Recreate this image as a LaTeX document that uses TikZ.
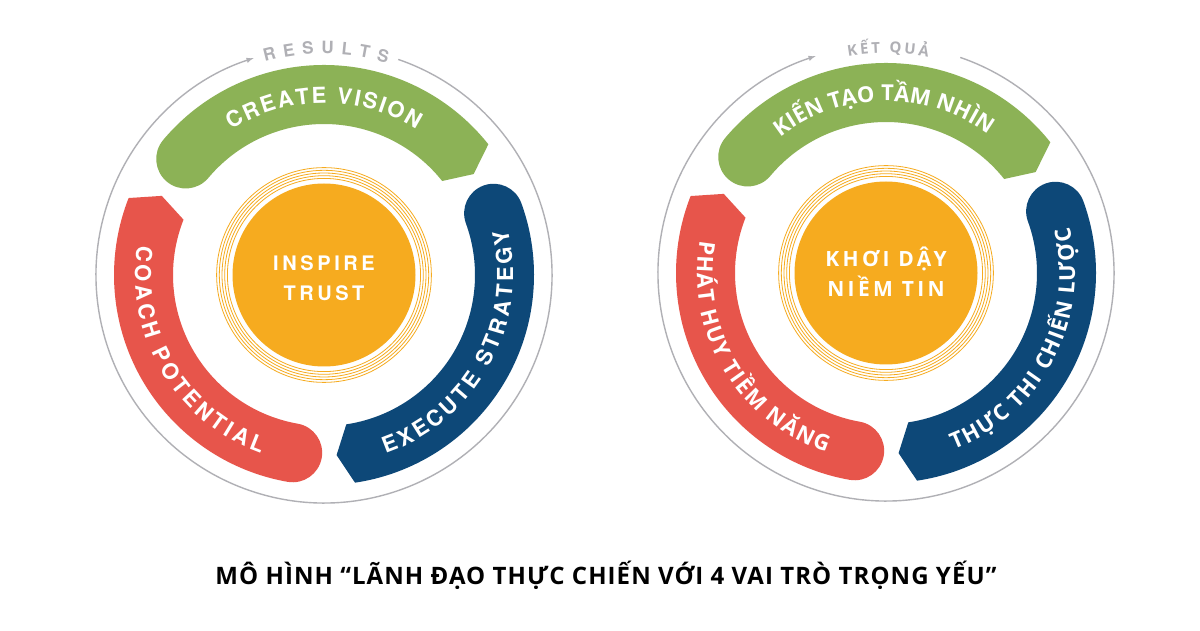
\documentclass[tikz,border=0pt]{standalone}
\usepackage{fontspec}
\setmainfont{Open Sans}
\newfontfamily\engfont{TeX Gyre Heros}
\usetikzlibrary{decorations.text}
\definecolor{grn}{RGB}{140,178,86}
\definecolor{blu}{RGB}{13,72,120}
\definecolor{red}{RGB}{231,85,75}
\definecolor{orng}{RGB}{246,171,31}
\definecolor{gry}{RGB}{176,176,181}
\newcommand{\enband}{\engfont\bfseries\fontsize{22}{24}\selectfont}
\newcommand{\vnband}{\bfseries\fontsize{22}{24}\selectfont}
\tikzset{
  arctext/.style={decorate, decoration={text along path, text align=fit to path, text color=white, text={#1}}},
  toptext/.style={decorate, decoration={text along path, text align=fit to path, text color=gry, text={#1}}},
  ctrtext/.style={text=white, align=center, inner sep=0pt}
}
\begin{document}
\begin{tikzpicture}[x=1pt,y=1pt]
	\pgfmathsetmacro{\Rout}{210}
	\pgfmathsetmacro{\Rin}{151}
	\pgfmathsetmacro{\Rmid}{180.5}
	\pgfmathsetmacro{\Rcap}{29.5}
	\useasboundingbox[fill=white] (0,0) rectangle (1200,630);
	\coordinate (L) at (324,355);
	\coordinate (R) at (886,357);
	\foreach \c in {L,R}{
		% gray results ring
		\draw[gry, line width=1.4, -latex, shift={(\c)}] (71:228) arc[start angle=71, end angle=-252, radius=228];
		% three role bands
		\foreach \ta/\th/\col in {140/38.5/grn, 20/-81.5/blu, 260/158.5/red}{
			\pgfmathsetmacro{\tp}{\th-4.5}
			\fill[\col, shift={(\c)}] (\ta:\Rout) arc[start angle=\ta, end angle=\th, radius=\Rout]
				-- (\tp:\Rmid) -- (\th:\Rin) arc[start angle=\th, end angle=\ta, radius=\Rin]
				arc[start angle=\ta+180, end angle=\ta, radius=\Rcap] -- cycle;
		}
		% trust core
		\foreach \r in {96.6,99.3,102,104.7,107.4}
			\draw[orng, line width=0.8] (\c) circle[radius=\r];
		\fill[orng] (\c) circle[radius=91.5];
	}
	% left model
	\path[toptext={|\engfont\bfseries\fontsize{17}{18}\selectfont|RESULTS}, shift={(L)}] (105.5:221) arc[start angle=105.5, end angle=73.4, radius=221];
	\path[arctext={|\enband|CREATE VISION}, shift={(L)}] (122.6:172) arc[start angle=122.6, end angle=57.6, radius=172];
	\path[arctext={|\enband|EXECUTE STRATEGY}, shift={(L)}] (-71:189) arc[start angle=-71, end angle=14, radius=189];
	\path[arctext={|\enband|COACH POTENTIAL}, shift={(L)}] (171:189) arc[start angle=171, end angle=250.5, radius=189];
	\node[ctrtext, font=\engfont\bfseries\fontsize{20}{30}\selectfont\addfontfeatures{LetterSpace=18}] (trustL) at ([yshift=-3]L) {INSPIRE\\TRUST};
	% right model
	\path[toptext={|\bfseries\fontsize{15}{16}\selectfont|KẾT QUẢ}, shift={(R)}] (99.9:220) arc[start angle=99.9, end angle=79, radius=220];
	\path[arctext={|\vnband|KIẾN TẠO TẦM NHÌN}, shift={(R)}] (128:172) arc[start angle=128, end angle=53.6, radius=172];
	\path[arctext={|\vnband|THỰC THI CHIẾN LƯỢC}, shift={(R)}] (-69:189) arc[start angle=-69, end angle=14, radius=189];
	\path[arctext={|\vnband|PHÁT HUY TIỀM NĂNG}, shift={(R)}] (170:189) arc[start angle=170, end angle=251.6, radius=189];
	\node[ctrtext, font=\bfseries\fontsize{21}{30}\selectfont\addfontfeatures{LetterSpace=16}] (trustR) at ([yshift=1]R) {KHƠI DẬY\\NIỀM TIN};
	% caption
	\node[anchor=base, inner sep=0pt, font=\bfseries\fontsize{24}{26}\selectfont\addfontfeatures{LetterSpace=4.5}] (title) at (606,46) {MÔ HÌNH “LÃNH ĐẠO THỰC CHIẾN VỚI 4 VAI TRÒ TRỌNG YẾU”};
\end{tikzpicture}
\end{document}
